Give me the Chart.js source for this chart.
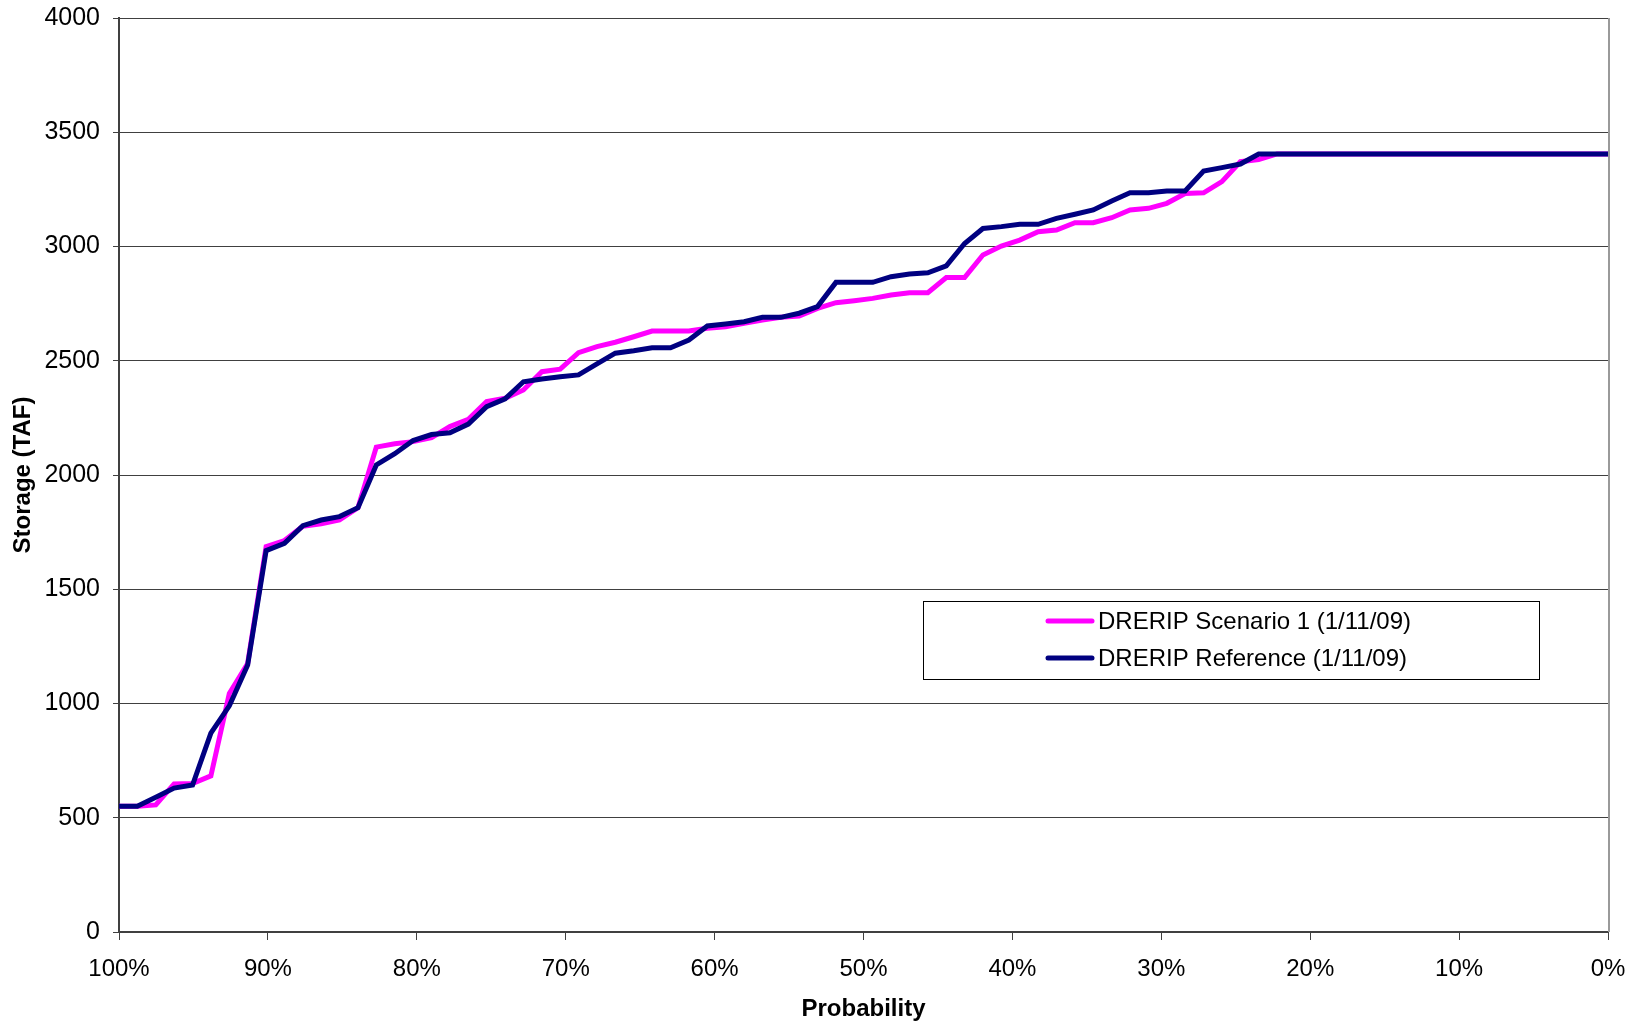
<!DOCTYPE html>
<html><head><meta charset="utf-8">
<script src="https://cdn.jsdelivr.net/npm/chart.js@4/dist/chart.umd.min.js"></script>
<style>html,body{margin:0;padding:0;background:#fff;overflow:hidden}canvas{display:block}</style>
</head><body>
<canvas id="c" width="1644" height="1021"></canvas>
<script>
const seriesNames = ['DRERIP Scenario 1 (1/11/09)', 'DRERIP Reference (1/11/09)'];
const seriesColors = ['#FF00FF', '#000080'];
const yTicks = [0, 500, 1000, 1500, 2000, 2500, 3000, 3500, 4000];
const xTickPercents = [100, 90, 80, 70, 60, 50, 40, 30, 20, 10, 0];
const probability = [100, 98.77, 97.53, 96.30, 95.06, 93.83, 92.59, 91.36, 90.12, 88.89, 87.65, 86.42, 85.19, 83.95, 82.72, 81.48, 80.25, 79.01, 77.78, 76.54, 75.31, 74.07, 72.84, 71.60, 70.37, 69.14, 67.90, 66.67, 65.43, 64.20, 62.96, 61.73, 60.49, 59.26, 58.02, 56.79, 55.56, 54.32, 53.09, 51.85, 50.62, 49.38, 48.15, 46.91, 45.68, 44.44, 43.21, 41.98, 40.74, 39.51, 38.27, 37.04, 35.80, 34.57, 33.33, 32.10, 30.86, 29.63, 28.40, 27.16, 25.93, 24.69, 23.46, 22.22, 20.99, 19.75, 18.52, 17.28, 16.05, 14.81, 13.58, 12.35, 11.11, 9.88, 8.64, 7.41, 6.17, 4.94, 3.70, 2.47, 1.23, 0];
const scenario1 = [550, 550, 556, 648, 650, 683, 1044, 1175, 1686, 1713, 1776, 1786, 1803, 1857, 2122, 2137, 2146, 2164, 2212, 2244, 2321, 2336, 2372, 2452, 2463, 2535, 2562, 2581, 2605, 2630, 2630, 2630, 2642, 2649, 2664, 2678, 2690, 2696, 2729, 2754, 2763, 2773, 2788, 2798, 2798, 2864, 2864, 2963, 3002, 3028, 3065, 3072, 3104, 3104, 3126, 3160, 3167, 3189, 3232, 3235, 3284, 3371, 3381, 3405, 3405, 3405, 3405, 3405, 3405, 3405, 3405, 3405, 3405, 3405, 3405, 3405, 3405, 3405, 3405, 3405, 3405, 3405];
const reference = [550, 550, 590, 630, 643, 870, 990, 1168, 1669, 1701, 1778, 1803, 1818, 1857, 2044, 2093, 2151, 2177, 2185, 2223, 2299, 2333, 2408, 2420, 2430, 2438, 2486, 2533, 2544, 2557, 2557, 2591, 2652, 2661, 2671, 2690, 2690, 2708, 2737, 2843, 2843, 2843, 2868, 2880, 2885, 2915, 3013, 3079, 3087, 3097, 3097, 3123, 3141, 3160, 3199, 3235, 3235, 3243, 3243, 3330, 3345, 3361, 3405, 3405, 3405, 3405, 3405, 3405, 3405, 3405, 3405, 3405, 3405, 3405, 3405, 3405, 3405, 3405, 3405, 3405, 3405, 3405];

const FAMILY = "'Liberation Sans', Arial, sans-serif";

const boxLegend = {
  id: 'boxLegend',
  afterDraw(chart) {
    const ctx = chart.ctx;
    ctx.save();
    const bx = 923.5, by = 601.5, bw = 616, bh = 78;
    ctx.fillStyle = '#fff';
    ctx.fillRect(bx, by, bw, bh);
    ctx.strokeStyle = '#000';
    ctx.lineWidth = 1;
    ctx.strokeRect(bx, by, bw, bh);
    ctx.font = '24px ' + FAMILY;
    ctx.textBaseline = 'middle';
    ctx.textAlign = 'left';
    chart.data.datasets.forEach((ds, i) => {
      const y = 621 + i * 37;
      ctx.strokeStyle = ds.borderColor;
      ctx.lineWidth = 5;
      ctx.lineCap = 'round';
      ctx.beginPath();
      ctx.moveTo(1048, y);
      ctx.lineTo(1092, y);
      ctx.stroke();
      ctx.fillStyle = '#000';
      ctx.fillText(ds.label, 1098, y + 1);
    });
    ctx.restore();
  }
};

const rightBorder = {
  id: 'rightBorder',
  afterDatasetsDraw(chart) {
    const {ctx, chartArea} = chart;
    ctx.save();
    ctx.strokeStyle = '#9a9a9a';
    ctx.lineWidth = 2;
    ctx.beginPath();
    ctx.moveTo(chartArea.right + 1, chartArea.top);
    ctx.lineTo(chartArea.right + 1, chartArea.bottom);
    ctx.stroke();
    ctx.restore();
  }
};

new Chart(document.getElementById('c').getContext('2d'), {
  type: 'line',
  data: {
    datasets: [
      {label: seriesNames[0], data: probability.map((p, i) => ({x: p, y: scenario1[i]})), borderColor: seriesColors[0], backgroundColor: seriesColors[0], borderWidth: 5, pointRadius: 0, tension: 0, order: 2, borderJoinStyle: 'miter', fill: false},
      {label: seriesNames[1], data: probability.map((p, i) => ({x: p, y: reference[i]})), borderColor: seriesColors[1], backgroundColor: seriesColors[1], borderWidth: 5, pointRadius: 0, tension: 0, order: 1, borderJoinStyle: 'miter', fill: false}
    ]
  },
  options: {
    responsive: false,
    animation: false,
    devicePixelRatio: 1,
    layout: {padding: {top: 18, right: 36, left: 0, bottom: 0}},
    plugins: {legend: {display: false}, tooltip: {enabled: false}},
    scales: {
      x: {
        type: 'linear', reverse: true, min: 0, max: 100,
        afterFit(s) { s.height = 89; s.paddingLeft = 0; s.paddingRight = 0; },
        afterBuildTicks(s) { s.ticks = xTickPercents.map(v => ({value: v})); },
        ticks: {callback: v => v + '%', font: {family: FAMILY, size: 24}, color: '#000', padding: 15, maxRotation: 0, autoSkip: false},
        grid: {drawOnChartArea: false, drawTicks: true, tickLength: 8, color: '#404040', lineWidth: 1},
        border: {color: '#404040', width: 2},
        title: {display: true, text: 'Probability', color: '#000', font: {family: FAMILY, size: 24, weight: 'bold', lineHeight: 1}, padding: 0}
      },
      y: {
        min: 0, max: 4000,
        afterFit(s) { s.width = 119; s.paddingTop = 0; s.paddingBottom = 0; },
        afterBuildTicks(s) { s.ticks = yTicks.map(v => ({value: v})); },
        ticks: {callback: v => String(v), font: {family: FAMILY, size: 25}, color: '#000', padding: 13, autoSkip: false},
        grid: {color: '#404040', lineWidth: 1, tickLength: 6},
        border: {color: '#404040', width: 2},
        title: {display: true, text: 'Storage (TAF)', color: '#000', font: {family: FAMILY, size: 24, weight: 'bold', lineHeight: 1}, padding: {top: 11, bottom: 0}}
      }
    }
  },
  plugins: [rightBorder, boxLegend]
});
</script>
</body></html>
